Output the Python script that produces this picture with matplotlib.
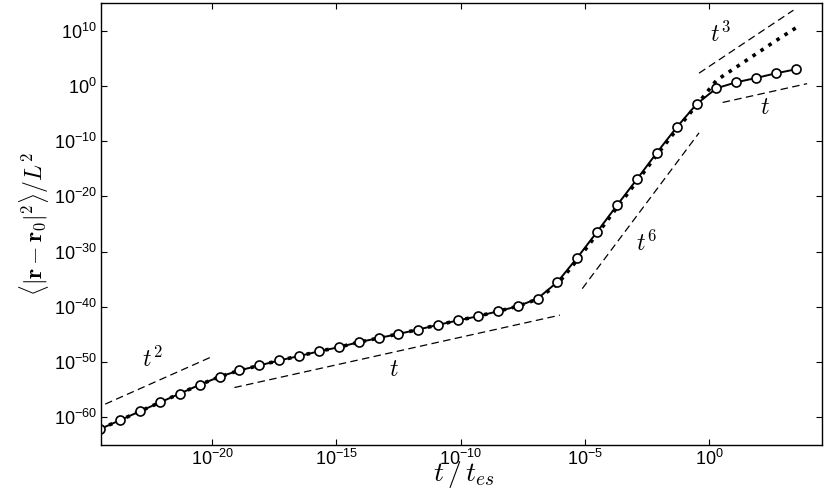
import numpy as np
import matplotlib
matplotlib.use("Agg")
import matplotlib.pyplot as plt

plt.rcParams['mathtext.fontset'] = 'stixsans'
plt.rcParams['font.family'] = ['Liberation Sans', 'DejaVu Sans']

# log10 of t/t_es for the sampled points
log_t = [-24.5, -23.7, -22.9, -22.1, -21.3, -20.5, -19.7, -18.9, -18.1, -17.3,
         -16.5, -15.7, -14.9, -14.1, -13.3, -12.5, -11.7, -10.9, -10.1, -9.3,
         -8.5, -7.7, -6.9, -6.1, -5.3, -4.5, -3.7, -2.9, -2.1, -1.3,
         -0.5, 0.3, 1.1, 1.9, 2.7, 3.5]

# log10 of <|r-r0|^2>/L^2, circles (solid line)
log_msd = [-62.1, -60.5, -58.9, -57.3, -55.7, -54.1, -52.65, -51.5, -50.6, -49.7,
           -48.9, -48.05, -47.3, -46.4, -45.65, -44.9, -44.1, -43.25, -42.45, -41.7,
           -40.8, -39.9, -38.5, -35.5, -31.1, -26.4, -21.6, -16.9, -12.1, -7.5,
           -3.3, -0.43, 0.65, 1.43, 2.28, 3.0]

# log10 of the dotted curve
log_msd_dot = [-62.1, -60.5, -58.9, -57.3, -55.7, -54.1, -52.65, -51.5, -50.6, -49.7,
               -48.9, -48.05, -47.3, -46.4, -45.65, -44.9, -44.1, -43.25, -42.45, -41.7,
               -40.8, -39.9, -38.6, -35.9, -31.5, -26.8, -22.0, -17.3, -12.5, -7.9,
               -3.5, 1.0, 3.4, 5.8, 8.2, 10.5]

# guide lines: (log t start, log t end, log y start, slope, label, label pos)
guides = [
    (-24.3, -20.0, -57.6, 2, r'$t^2$', (-22.4, -49.5)),
    (-19.1, -6.0, -54.6, 1, r'$t$', (-12.7, -51.5)),
    (-5.1, -0.4, -36.7, 6, r'$t^6$', (-2.5, -28.5)),
    (-0.4, 3.4, 2.3, 3, r'$t^3$', (0.45, 9.3)),
    (0.55, 3.95, -3.0, 1, r'$t$', (2.25, -4.0)),
]

t = 10.0**np.array(log_t)
msd = 10.0**np.array(log_msd)
msd_dot = 10.0**np.array(log_msd_dot)

fig = plt.figure(figsize=(8.3, 4.91), dpi=100)
ax = fig.add_axes([0.1217, 0.0937, 0.8687, 0.9002])

ax.loglog(t, msd_dot, color='k', linestyle=':', lw=2.6)
ax.loglog(t, msd, 'o-', color='k', lw=1.4, ms=6.5, mfc='white', mec='k', mew=1.2)

for x0, x1, y0, p, lab, (lx, ly) in guides:
    xs = np.array([x0, x1])
    ys = y0 + p*(xs - x0)
    ax.loglog(10.0**xs, 10.0**ys, color='k', lw=0.9, dashes=(6, 3.5))
    ax.text(10.0**lx, 10.0**ly, lab, fontsize=17, math_fontfamily='cm',
            ha='center', va='center')

ax.set_xlim(10**-24.47, 10**4.55)
ax.set_ylim(1e-65, 1e15)
ax.set_xticks([1e-20, 1e-15, 1e-10, 1e-5, 1e0])
ax.set_yticks([1e-60, 1e-50, 1e-40, 1e-30, 1e-20, 1e-10, 1e0, 1e10])
ax.minorticks_off()
ax.tick_params(direction='in', top=True, right=True, length=4, width=0.8,
               labelsize=13, pad=3)
for s in ax.spines.values():
    s.set_linewidth(1.0)

ax.set_xlabel(r'$t\,/\,t_{es}$', fontsize=20, math_fontfamily='cm', va='center')
ax.xaxis.set_label_coords(0.503, -0.066)
ax.set_ylabel(r'$\langle|\mathbf{r}-\mathbf{r}_0|^2\rangle/L^2$', fontsize=17,
              math_fontfamily='cm', labelpad=2)

fig.savefig("out.png", dpi=100)
